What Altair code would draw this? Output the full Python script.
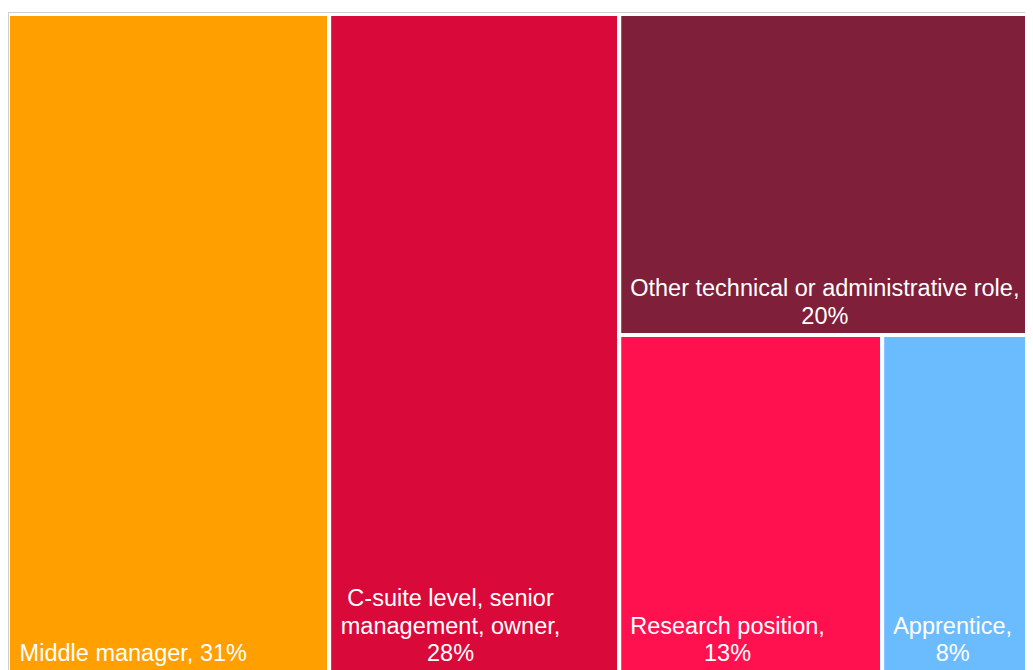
import altair as alt
import pandas as pd

# ---- data ----
categories = [
    "Middle manager",
    "C-suite level, senior management, owner",
    "Other technical or administrative role",
    "Research position",
    "Apprentice",
]
shares = [31, 28, 20, 13, 8]
colors = ["#FFA000", "#D90A3A", "#7F1F3A", "#FF1150", "#6BBCFF"]
label_lines = [
    ["Middle manager, 31%"],
    ["C-suite level, senior", "management, owner,", "28%"],
    ["Other technical or administrative role,", "20%"],
    ["Research position,", "13%"],
    ["Apprentice,", "8%"],
]

FONT_SIZE = 23.5
LINE_H = 27.5
W, H = 1017, 662            # view size
PPU_X = 1036 / 100.0        # pixels per layout unit, horizontal
PPU_Y = 658 / 100.0         # pixels per layout unit, vertical
TOP = 6                     # px offset of the tiles from the view top
PAD = 11

# Arial / Liberation Sans advance widths (per 1000 em)
AW = {" ": 278, ",": 278, "-": 333, "%": 889, "A": 667, "C": 722, "M": 833,
      "O": 778, "R": 722, "a": 556, "b": 556, "c": 500, "d": 556, "e": 556,
      "f": 278, "g": 556, "h": 556, "i": 222, "l": 222, "m": 833, "n": 556,
      "o": 556, "p": 556, "r": 333, "s": 500, "t": 278, "u": 556, "v": 500,
      "w": 722}


def text_w(s):
    return sum(AW.get(ch, 556) for ch in s) / 1000.0 * FONT_SIZE


def layout(vals):
    """Two full-height columns, then a column holding one tile on top and a row below."""
    total = float(sum(vals))
    rects = []
    x = 0.0
    for v in vals[:2]:
        w = v / total * 100
        rects.append((x, x + w, 0.0, 100.0))
        x += w
    rest = vals[2:]
    rest_total = float(sum(rest))
    h_top = rest[0] / rest_total * 100
    rects.append((x, 100.0, 0.0, h_top))
    bottom = rest[1:]
    bt = float(sum(bottom))
    bx = x
    for v in bottom:
        w = v / bt * (100.0 - x)
        rects.append((bx, bx + w, h_top, 100.0))
        bx += w
    return rects


rects = layout(shares)
rows = []
for cat, val, lines, (x0, x1, y0, y1) in zip(categories, shares, label_lines, rects):
    maxw = max(text_w(s) for s in lines)
    cx_px = x0 * PPU_X + PAD + maxw / 2.0
    cx_px = min(cx_px, W - 3 - maxw / 2.0)   # keep the label inside the view
    rows.append({
        "category": cat,
        "share": val,
        "x0": x0, "x1": x1, "y0": y0, "y1": y1,
        "label": "\n".join(lines),
        "lx": cx_px / PPU_X,
        "ly": y1 - ((len(lines) - 1) * LINE_H) / PPU_Y,
    })
df = pd.DataFrame(rows)

# scales: domains chosen so that layout unit u maps to u*PPU (+offset) pixels in the view
xs = alt.Scale(domain=[0, W / PPU_X], nice=False, zero=False)
ys = alt.Scale(domain=[-TOP / PPU_Y, (H - TOP) / PPU_Y], nice=False, zero=False, reverse=True)

base = alt.Chart(df)

tiles = base.mark_rect(stroke="white", strokeWidth=4, clip=True).encode(
    x=alt.X("x0:Q", scale=xs, axis=None),
    x2="x1:Q",
    y=alt.Y("y0:Q", scale=ys, axis=None),
    y2="y1:Q",
    color=alt.Color("category:N", scale=alt.Scale(domain=categories, range=colors), legend=None),
)

labels = base.mark_text(
    align="center", baseline="bottom", dy=-6, color="white",
    font="Liberation Sans", fontSize=FONT_SIZE, lineHeight=LINE_H, lineBreak="\n", clip=True,
).encode(
    x=alt.X("lx:Q", scale=xs, axis=None),
    y=alt.Y("ly:Q", scale=ys, axis=None),
    text="label:N",
)

frame = base.mark_rect(fill=None, stroke="#cfcfcf", strokeWidth=1, clip=True).encode(
    x=alt.value(0.5), x2=alt.value(1200), y=alt.value(4.5), y2=alt.value(900)
)

chart = alt.layer(tiles, labels, frame).properties(
    width=W, height=H, padding=0, autosize="none", background="white"
).configure_view(stroke=None)

chart.save("out.html", embed_options={"renderer": "svg", "actions": False})
